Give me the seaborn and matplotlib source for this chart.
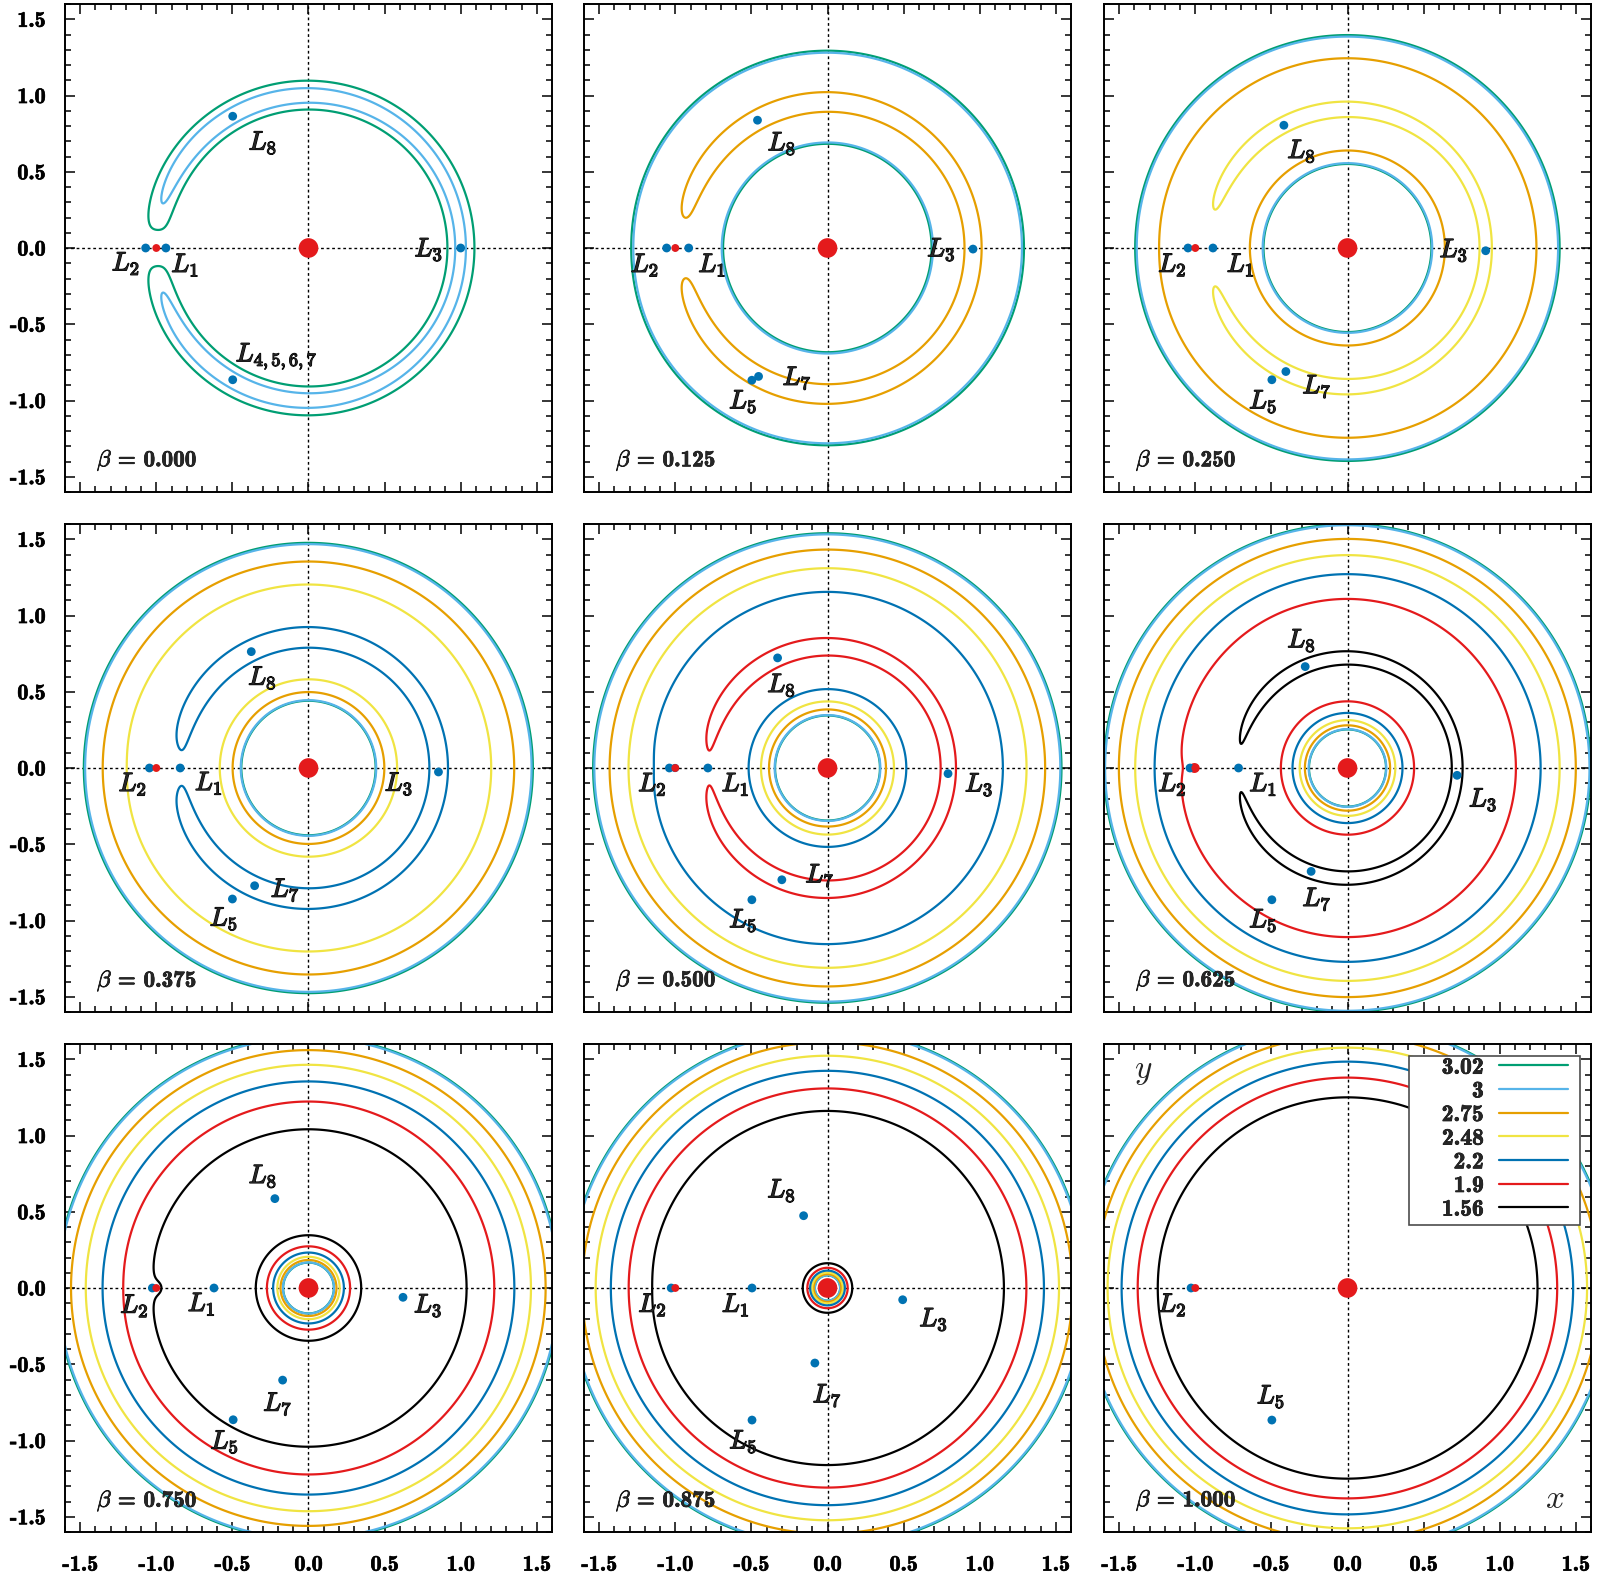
"""
Zero-velocity curves for nine values of the radiation parameter beta.
"""

import numpy as np
import matplotlib
matplotlib.use('Agg')
import matplotlib.pyplot as plt
import matplotlib.patheffects as pe
from matplotlib.lines import Line2D
from matplotlib.patches import Rectangle
from matplotlib.ticker import MultipleLocator, FormatStrFormatter
import seaborn as sns

# radiation parameter of every panel
betas = [0.0, 0.125, 0.25, 0.375, 0.5, 0.625, 0.75, 0.875, 1.0]

# Jacobi constants of the curves (legend order)
levels = [3.02, 3.0, 2.75, 2.48, 2.2, 1.9, 1.56]
level_labels = ['3.02', '3', '2.75', '2.48', '2.2', '1.9', '1.56']
level_colors = ['#009e73', '#56b4e9', '#e69f00', '#f0e442', '#0072b2', '#e41a1c', '#000000']

# mass ratio of the secondary (at x=-1) and per-panel shift of C
mu = 0.002
c_offset = [-0.0077, -0.0082, -0.0058, -0.0089, -0.0024, -0.0090, -0.0075, -0.0075, -0.0075]
secondary_x = -1.0

# equilibrium points of every panel
l_names = [
    ['2', '1', '3', '8', '4,5,6,7'],
    ['2', '1', '3', '8', '7', '5'],
    ['2', '1', '3', '8', '7', '5'],
    ['2', '1', '3', '8', '7', '5'],
    ['2', '1', '3', '8', '7', '5'],
    ['2', '1', '3', '8', '7', '5'],
    ['2', '1', '3', '8', '7', '5'],
    ['2', '1', '3', '8', '7', '5'],
    ['2', '5'],
]
l_x = [
    [-1.070, -0.937, 1.000, -0.498, -0.498],
    [-1.057, -0.912, 0.956, -0.460, -0.453, -0.497],
    [-1.048, -0.884, 0.908, -0.418, -0.405, -0.497],
    [-1.045, -0.843, 0.854, -0.376, -0.354, -0.500],
    [-1.039, -0.786, 0.792, -0.328, -0.300, -0.497],
    [-1.035, -0.716, 0.720, -0.278, -0.239, -0.497],
    [-1.026, -0.621, 0.621, -0.221, -0.170, -0.495],
    [-1.027, -0.496, 0.494, -0.157, -0.083, -0.496],
    [-1.028, -0.497],
]
l_y = [
    [0.0, 0.0, 0.0, 0.864, -0.864],
    [0.0, 0.0, -0.007, 0.838, -0.842, -0.867],
    [0.0, 0.0, -0.018, 0.805, -0.810, -0.864],
    [0.0, 0.0, -0.026, 0.763, -0.772, -0.859],
    [0.0, 0.0, -0.037, 0.722, -0.733, -0.864],
    [0.0, 0.0, -0.048, 0.665, -0.678, -0.864],
    [0.0, 0.0, -0.061, 0.586, -0.604, -0.864],
    [0.0, 0.0, -0.077, 0.474, -0.492, -0.866],
    [0.0, -0.866],
]

# where the L labels sit (layout only)
lab_pos = [
    [(-1.20, -0.10), (-0.81, -0.11), (0.79, -0.01), (-0.30, 0.69), (-0.21, -0.71)],
    [(-1.20, -0.11), (-0.757, -0.11), (0.748, -0.01), (-0.30, 0.685), (-0.20, -0.853), (-0.554, -1.007)],
    [(-1.151, -0.109), (-0.702, -0.109), (0.698, -0.015), (-0.302, 0.635), (-0.201, -0.908), (-0.554, -1.007)],
    [(-1.155, -0.104), (-0.655, -0.098), (0.594, -0.104), (-0.303, 0.591), (-0.153, -0.80), (-0.556, -0.989)],
    [(-1.151, -0.105), (-0.604, -0.105), (0.996, -0.109), (-0.302, 0.543), (-0.05, -0.705), (-0.554, -1.0)],
    [(-1.151, -0.105), (-0.554, -0.105), (0.891, -0.208), (-0.302, 0.836), (-0.201, -0.860), (-0.554, -1.0)],
    [(-1.144, -0.115), (-0.702, -0.104), (0.786, -0.115), (-0.30, 0.733), (-0.202, -0.760), (-0.551, -1.009)],
    [(-1.15, -0.109), (-0.603, -0.109), (0.697, -0.206), (-0.302, 0.639), (-0.002, -0.705), (-0.553, -1.007)],
    [(-1.151, -0.109), (-0.503, -0.712)],
]

sns.set_theme(style='ticks')
plt.rcParams['font.family'] = ['cmb10', 'DejaVu Sans']
plt.rcParams['mathtext.fontset'] = 'cm'
plt.rcParams['axes.unicode_minus'] = False
plt.rcParams['axes.formatter.use_mathtext'] = False

FS = 16

xs = np.linspace(-1.6, 1.6, 1000)
X, Y = np.meshgrid(xs, xs)
r1 = np.hypot(X, Y)
r2 = np.hypot(X - secondary_x, Y)


def jacobi(beta, shift):
    q = 1.0 - beta
    return (1 - mu) * (r1 ** 2 + 2 * q / r1) + mu * (r2 ** 2 + 2 / r2) + shift


fig = plt.figure(figsize=(15.97, 15.76), dpi=100)
W, H = 1597.0, 1576.0
lefts = [65, 584, 1104]
tops = [4, 524, 1044]
aw, ah = 487, 488

heavy = [pe.withStroke(linewidth=0.9, foreground='black')]
heavy_thin = [pe.withStroke(linewidth=0.5, foreground='black')]

for i, beta in enumerate(betas):
    row, col = divmod(i, 3)
    ax = fig.add_axes([lefts[col] / W, (H - tops[row] - ah) / H, aw / W, ah / H])
    F = jacobi(beta, c_offset[i])
    for lev, colr in zip(levels, level_colors):
        ax.contour(X, Y, F, levels=[lev], colors=[colr], linewidths=1.6, zorder=2)

    ax.axhline(0, color='black', lw=1.0, ls=(0, (2, 2)), zorder=1)
    ax.axvline(0, color='black', lw=1.0, ls=(0, (2, 2)), zorder=1)

    sns.scatterplot(x=l_x[i], y=l_y[i], color='#0072b2', s=40, edgecolor='none',
                    ax=ax, zorder=5, legend=False)
    sns.scatterplot(x=[secondary_x], y=[0.0], color='#e41a1c', s=32, edgecolor='none',
                    ax=ax, zorder=6, legend=False)
    sns.scatterplot(x=[0.0], y=[0.0], color='#e41a1c', s=200, edgecolor='none',
                    ax=ax, zorder=6, legend=False)

    for name, (tx, ty) in zip(l_names[i], lab_pos[i]):
        ax.text(tx, ty, r'$L_{%s}$' % name, ha='center', va='center',
                fontsize=19, path_effects=heavy, zorder=7)

    ax.text(-1.39, -1.396, r'$\beta$ = %.3f' % beta, ha='left', va='center',
            fontsize=16.7, path_effects=heavy_thin, zorder=7)

    ax.set_xlim(-1.6, 1.6)
    ax.set_ylim(-1.6, 1.6)
    ax.xaxis.set_major_locator(MultipleLocator(0.5))
    ax.yaxis.set_major_locator(MultipleLocator(0.5))
    ax.xaxis.set_minor_locator(MultipleLocator(0.1))
    ax.yaxis.set_minor_locator(MultipleLocator(0.1))
    ax.xaxis.set_major_formatter(FormatStrFormatter('%.1f'))
    ax.yaxis.set_major_formatter(FormatStrFormatter('%.1f'))
    ax.tick_params(which='both', direction='in', top=True, right=True,
                   colors='black', width=1.1)
    ax.tick_params(which='major', length=7)
    ax.tick_params(which='minor', length=4)
    ax.tick_params(axis='x', pad=17, labelsize=FS, labelbottom=(row == 2))
    ax.tick_params(axis='y', pad=14, labelsize=FS, labelleft=(col == 0))
    for t in ax.get_xticklabels() + ax.get_yticklabels():
        t.set_path_effects(heavy_thin)
    for sp in ax.spines.values():
        sp.set_color('black')
        sp.set_linewidth(1.4)
    ax.set_xlabel('')
    ax.set_ylabel('')

    if i == len(betas) - 1:
        ax.text(-1.34, 1.415, r'$y$', fontsize=24, ha='center', va='center')
        ax.text(1.36, -1.385, r'$x$', fontsize=24, ha='center', va='center')
        # legend box drawn by hand, entries placed inside it
        ax.add_patch(Rectangle((0.626, 0.629), 0.3506, 0.347, transform=ax.transAxes,
                               facecolor='white', edgecolor='0.3', lw=1.2, zorder=9))
        handles = [Line2D([0], [0], color=c, lw=1.6) for c in level_colors]
        leg = ax.legend(handles, level_labels, loc='upper right',
                        bbox_to_anchor=(0.952, 0.974), markerfirst=False,
                        frameon=False, fontsize=17, handlelength=2.9,
                        handletextpad=0.65, borderpad=0.0, labelspacing=0.07,
                        borderaxespad=0.0)
        for t in leg.get_texts():
            t.set_path_effects(heavy_thin)
        leg.set_zorder(10)

fig.savefig('out.png', dpi=100)
plt.close(fig)
